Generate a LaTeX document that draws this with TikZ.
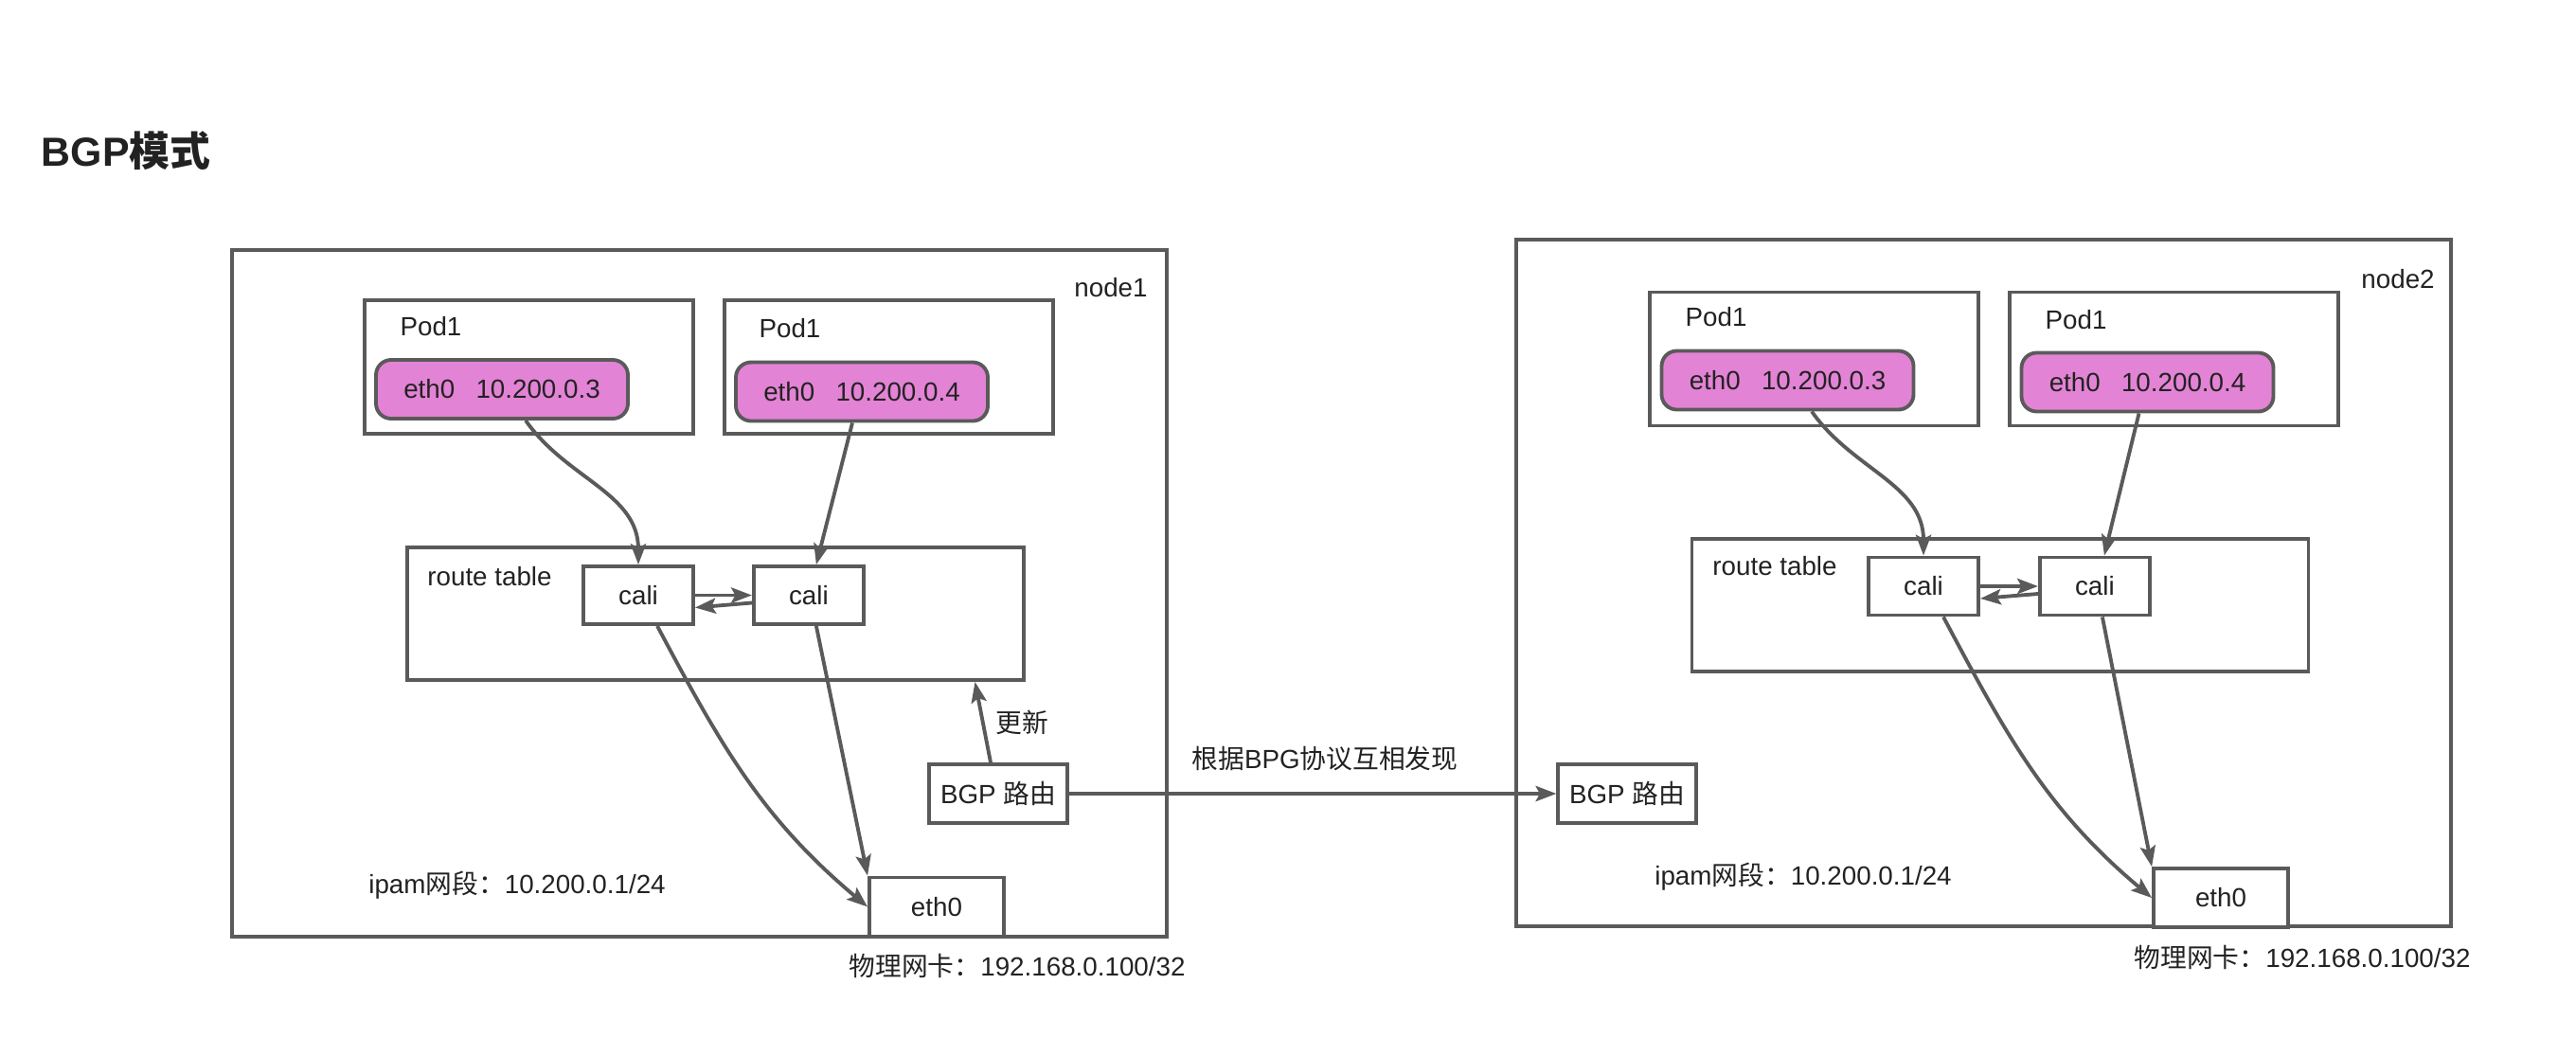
\documentclass[tikz,border=0pt]{standalone}
\usepackage{fontspec}
\setmainfont{Liberation Sans}
\newfontfamily\cjk{Noto Sans CJK SC}
\usetikzlibrary{arrows.meta, positioning}
\definecolor{linegray}{HTML}{5A5A5A}
\definecolor{podpink}{HTML}{E383D5}
\definecolor{textdark}{HTML}{222222}

\begin{document}
\begin{tikzpicture}[
    font=\fontsize{7.9}{9.5}\selectfont, text=textdark,
    container/.style={rectangle, draw=linegray, line width=1.1pt, minimum width=9.87cm, minimum height=7.25cm, inner sep=0pt},
    podbox/.style={rectangle, draw=linegray, line width=1.1pt, minimum width=3.47cm, minimum height=1.41cm},
    ethpill/.style={rectangle, draw=linegray, line width=1.1pt, rounded corners=0.16cm, fill=podpink, minimum width=2.66cm, minimum height=0.62cm},
    tablebox/.style={rectangle, draw=linegray, line width=1.1pt, minimum width=6.51cm, minimum height=1.40cm},
    smallbox/.style={rectangle, draw=linegray, line width=1.1pt, fill=white, minimum width=1.16cm, minimum height=0.61cm},
    bgpbox/.style={smallbox, minimum width=1.44cm, minimum height=0.62cm},
    nicbox/.style={smallbox, minimum width=1.42cm, minimum height=0.62cm},
    lbl/.style={inner sep=0pt},
    arrow/.style={-{Stealth[length=6.2pt, width=4.6pt, inset=1.2pt]}, line width=1.1pt, draw=linegray}
]
    \useasboundingbox (0,0) rectangle (27.2,-11.14);

    \node[lbl, anchor=west, font=\fontsize{12.2}{14}\selectfont\bfseries] (title) at (0.43,-1.59) {BGP{\cjk 模式}};

    % node1
    \node[container] (n1) at (7.385,-6.265) {};
    \node[lbl] (n1name) at (11.73,-3.04) {node1};

    \node[podbox] (p1a) at (5.585,-3.875) {};
    \node[lbl] (p1aname) at (4.55,-3.45) {Pod1};
    \node[ethpill] (e1a) at (5.30,-4.11) {eth0\hspace{0.8em}10.200.0.3};
    \node[podbox, right=0.29cm of p1a] (p1b) {};
    \node[lbl] (p1bname) at (8.34,-3.47) {Pod1};
    \node[ethpill] (e1b) at (9.10,-4.135) {eth0\hspace{0.8em}10.200.0.4};

    \node[tablebox] (rt1) at (7.555,-6.48) {};
    \node[lbl] (rt1name) at (5.17,-6.09) {route table};
    \node[smallbox] (c1a) at (6.74,-6.285) {cali};
    \node[smallbox, right=0.60cm of c1a] (c1b) {cali};

    \node[bgpbox] (bgp1) at (10.54,-8.38) {BGP {\cjk 路由}};
    \node[nicbox] (nic1) at (9.89,-9.575) {eth0};
    \node[lbl] (ipam1) at (5.46,-9.35) {ipam{\cjk 网段：}10.200.0.1/24};
    \node[lbl] (phy1) at (10.74,-10.20) {{\cjk 物理网卡：}192.168.0.100/32};

    \draw[arrow] ([xshift=0.25cm]e1a.south) to[out=-55, in=90] (c1a.north);
    \draw[arrow] ([xshift=-0.1cm]e1b.south) -- ([xshift=0.08cm]c1b.north);
    \draw[arrow] (c1a.east) -- (c1b.west);
    \draw[arrow] ([yshift=-0.08cm]c1b.west) -- ([yshift=-0.13cm]c1a.east);
    \draw[arrow] ([xshift=0.2cm]c1a.south) to[out=-62, in=140] (nic1.west);
    \draw[arrow] ([xshift=0.08cm]c1b.south) -- (nic1.north west);
    \draw[arrow] ([xshift=-0.08cm]bgp1.north) -- node[right] {{\cjk 更新}} ([xshift=2.74cm]rt1.south);

    % node2
    \node[container] (n2) at (20.945,-6.155) {};
    \node[lbl] (n2name) at (25.32,-2.95) {node2};

    \node[podbox] (p2a) at (19.155,-3.79) {};
    \node[lbl] (p2aname) at (18.12,-3.35) {Pod1};
    \node[ethpill] (e2a) at (18.875,-4.015) {eth0\hspace{0.8em}10.200.0.3};
    \node[podbox, right=0.29cm of p2a] (p2b) {};
    \node[lbl] (p2bname) at (21.92,-3.38) {Pod1};
    \node[ethpill] (e2b) at (22.675,-4.035) {eth0\hspace{0.8em}10.200.0.4};

    \node[tablebox] (rt2) at (21.12,-6.39) {};
    \node[lbl] (rt2name) at (18.74,-5.98) {route table};
    \node[smallbox] (c2a) at (20.31,-6.19) {cali};
    \node[smallbox, right=0.61cm of c2a] (c2b) {cali};

    \node[bgpbox] (bgp2) at (17.18,-8.38) {BGP {\cjk 路由}};
    \node[nicbox] (nic2) at (23.45,-9.48) {eth0};
    \node[lbl] (ipam2) at (19.04,-9.26) {ipam{\cjk 网段：}10.200.0.1/24};
    \node[lbl] (phy2) at (24.31,-10.11) {{\cjk 物理网卡：}192.168.0.100/32};

    \draw[arrow] ([xshift=0.255cm]e2a.south) to[out=-55, in=90] (c2a.north);
    \draw[arrow] ([xshift=-0.09cm]e2b.south) -- ([xshift=0.1cm]c2b.north);
    \draw[arrow] (c2a.east) -- (c2b.west);
    \draw[arrow] ([yshift=-0.08cm]c2b.west) -- ([yshift=-0.13cm]c2a.east);
    \draw[arrow] ([xshift=0.21cm]c2a.south) to[out=-62, in=140] (nic2.west);
    \draw[arrow] ([xshift=0.08cm]c2b.south) -- (nic2.north west);

    % between the two nodes
    \draw[arrow] (bgp1.east) -- node[above=0.10cm, xshift=0.13cm] {{\cjk 根据}BPG{\cjk 协议互相发现}} (bgp2.west);
\end{tikzpicture}
\end{document}
